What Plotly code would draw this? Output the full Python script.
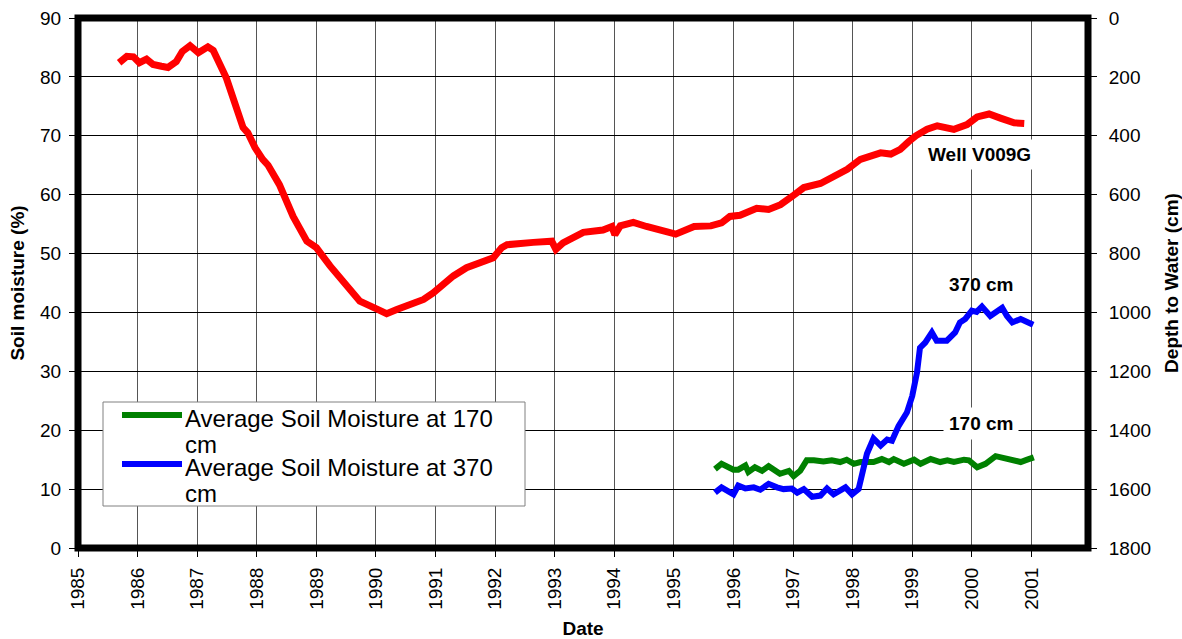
import plotly.graph_objects as go

# ---- data (decimal years) ----
well_dates = [1985.69, 1985.82, 1985.93, 1986.03, 1986.15, 1986.26, 1986.40, 1986.51, 1986.65, 1986.75,
              1986.88, 1987.02, 1987.18, 1987.27, 1987.49, 1987.60, 1987.77, 1987.85, 1987.97, 1988.10,
              1988.19, 1988.38, 1988.49, 1988.61, 1988.84, 1989.00, 1989.23, 1989.50, 1989.73, 1990.01,
              1990.18, 1990.35, 1990.60, 1990.80, 1990.96, 1991.30, 1991.52, 1991.75, 1991.97, 1992.11,
              1992.20, 1992.64, 1992.95, 1993.02, 1993.14, 1993.48, 1993.81, 1993.96, 1994.01, 1994.10,
              1994.32, 1994.54, 1994.77, 1995.03, 1995.34, 1995.62, 1995.80, 1995.94, 1996.11, 1996.39,
              1996.59, 1996.79, 1997.01, 1997.18, 1997.46, 1997.68, 1997.91, 1998.13, 1998.47, 1998.64,
              1998.80, 1998.94, 1999.06, 1999.25, 1999.42, 1999.70, 1999.92, 2000.09, 2000.29, 2000.48,
              2000.71, 2000.88]
well_depth = [152, 130, 132, 152, 140, 158, 164, 168, 148, 114,
              94, 118, 98, 110, 204, 276, 372, 390, 440, 480,
              500, 566, 616, 674, 758, 780, 842, 904, 962, 988,
              1004, 990, 970, 956, 934, 876, 848, 832, 814, 780,
              770, 762, 758, 786, 764, 728, 720, 708, 736, 706,
              694, 708, 722, 734, 708, 706, 696, 674, 670, 646,
              650, 634, 602, 576, 562, 536, 514, 480, 458, 462,
              446, 420, 400, 378, 366, 378, 362, 336, 326, 340,
              356, 358]

sm170_dates = [1995.69, 1995.80, 1996.00, 1996.08, 1996.20, 1996.25, 1996.36, 1996.48, 1996.59, 1996.70,
               1996.78, 1996.93, 1997.01, 1997.12, 1997.23, 1997.35, 1997.51, 1997.65, 1997.79, 1997.90,
               1998.02, 1998.13, 1998.24, 1998.35, 1998.49, 1998.61, 1998.69, 1998.86, 1999.03, 1999.14,
               1999.31, 1999.47, 1999.59, 1999.70, 1999.87, 1999.95, 2000.09, 2000.23, 2000.40, 2000.51,
               2000.65, 2000.82, 2000.93, 2001.04]
sm170 = [13.4, 14.3, 13.3, 13.3, 14.0, 12.9, 13.7, 13.1, 13.9, 13.1,
         12.6, 13.1, 12.2, 13.1, 14.9, 14.9, 14.7, 14.9, 14.6, 15.0,
         14.3, 14.6, 14.7, 14.6, 15.1, 14.6, 15.1, 14.3, 15.0, 14.3,
         15.1, 14.6, 14.9, 14.6, 15.0, 14.9, 13.7, 14.3, 15.6, 15.3,
         14.9, 14.6, 15.0, 15.4]

sm370_dates = [1995.69, 1995.80, 1996.00, 1996.08, 1996.20, 1996.34, 1996.45, 1996.59, 1996.73, 1996.84,
               1996.98, 1997.07, 1997.18, 1997.32, 1997.46, 1997.57, 1997.68, 1997.88, 1997.99, 1998.10,
               1998.24, 1998.35, 1998.47, 1998.58, 1998.66, 1998.77, 1998.91, 1999.00, 1999.08, 1999.13,
               1999.22, 1999.33, 1999.41, 1999.58, 1999.72, 1999.80, 1999.89, 2000.00, 2000.08, 2000.17,
               2000.31, 2000.40, 2000.51, 2000.59, 2000.68, 2000.82, 2000.93, 2001.03]
sm370 = [9.4, 10.3, 9.1, 10.6, 10.1, 10.3, 9.9, 10.9, 10.3, 10.0,
         10.1, 9.4, 10.0, 8.7, 8.9, 10.1, 9.1, 10.3, 9.1, 10.0,
         16.0, 18.6, 17.4, 18.4, 18.2, 20.7, 23.0, 25.8, 29.8, 34.0,
         34.9, 36.6, 35.2, 35.2, 36.6, 38.3, 38.9, 40.3, 40.1, 41.0,
         39.4, 40.0, 40.8, 39.4, 38.3, 38.9, 38.3, 37.9]

year_ticks = list(range(1985, 2002))
year_labels = [str(y) for y in year_ticks]

series_names = ["Average Soil Moisture at 170 cm", "Average Soil Moisture at 370 cm"]
legend_lines = [["Average Soil Moisture at 170", "cm"], ["Average Soil Moisture at 370", "cm"]]
series_colors = ["#008000", "#0000ff"]

FONT = "Arial, 'Liberation Sans', sans-serif"

# plot area in pixels (for placing the hand-drawn legend)
L, R, T, B = 78, 1088, 18, 548
def px(xp):
    return (xp - L) / (R - L)
def py(yp):
    return (B - yp) / (B - T)

fig = go.Figure()
fig.add_trace(go.Scatter(x=well_dates, y=well_depth, yaxis="y2", mode="lines",
                         line=dict(color="#ff0000", width=7), name="Well V009G",
                         showlegend=False))
fig.add_trace(go.Scatter(x=sm170_dates, y=sm170, mode="lines",
                         line=dict(color=series_colors[0], width=6),
                         name=series_names[0], showlegend=False))
fig.add_trace(go.Scatter(x=sm370_dates, y=sm370, mode="lines",
                         line=dict(color=series_colors[1], width=6),
                         name=series_names[1], showlegend=False))

fig.update_layout(
    width=1182, height=639, autosize=False,
    margin=dict(l=L, r=1182 - R, t=T, b=639 - B),
    paper_bgcolor="white", plot_bgcolor="white",
    font=dict(family=FONT, color="black", size=19),
    xaxis=dict(range=[1985, 2001.95], tickvals=year_ticks, ticktext=year_labels,
               tickangle=-90, ticks="outside", ticklen=8, tickcolor="black",
               showgrid=True, gridcolor="#555555", gridwidth=1,
               showline=False, zeroline=False, tickfont=dict(size=19), automargin=False,
               ticklabelstandoff=3,
               title=dict(text="<b>Date</b>", font=dict(size=19), standoff=16)),
    yaxis=dict(range=[0, 90], dtick=10, ticks="outside", ticklen=8, tickcolor="black",
               showgrid=True, gridcolor="black", gridwidth=1,
               showline=False, zeroline=False, tickfont=dict(size=19), automargin=False,
               ticklabelstandoff=4,
               title=dict(text="<b>Soil moisture (%)</b>", font=dict(size=19), standoff=10)),
    yaxis2=dict(range=[1800, 0], dtick=200, overlaying="y", side="right",
                ticks="outside", ticklen=8, tickcolor="black", showgrid=False,
                showline=False, zeroline=False, tickfont=dict(size=19), automargin=False,
                ticklabelstandoff=8,
                title=dict(text="<b>Depth to Water (cm)</b>", font=dict(size=19), standoff=16)),
    showlegend=False,
)

# plot frame, centred on the plot-area edges
fig.add_shape(type="rect", xref="paper", yref="paper", x0=0, x1=1, y0=0, y1=1,
              line=dict(color="black", width=7), layer="above")

# legend box (drawn)
fig.add_shape(type="rect", xref="paper", yref="paper",
              x0=px(103), x1=px(525), y0=py(506), y1=py(402),
              line=dict(color="#808080", width=1), fillcolor="white", layer="above")
sample_y = [415, 464]
text_y = [[418, 444], [467, 493]]
for i in range(2):
    fig.add_shape(type="line", xref="paper", yref="paper",
                  x0=px(122), x1=px(182), y0=py(sample_y[i]), y1=py(sample_y[i]),
                  line=dict(color=series_colors[i], width=6), layer="above")
    for j, txt in enumerate(legend_lines[i]):
        fig.add_annotation(xref="paper", yref="paper", x=px(183), y=py(text_y[i][j]),
                           xanchor="left", yanchor="middle", text=txt, showarrow=False,
                           font=dict(size=24))

fig.add_annotation(x=2000.13, y=66.8, xref="x", yref="y", text="<b>Well V009G</b>",
                   showarrow=False, font=dict(size=19), bgcolor="white", borderpad=4)
fig.add_annotation(x=2000.15, y=44.7, xref="x", yref="y", text="<b>370 cm</b>",
                   showarrow=False, font=dict(size=19))
fig.add_annotation(x=2000.15, y=21.1, xref="x", yref="y", text="<b>170 cm</b>",
                   showarrow=False, font=dict(size=19), bgcolor="white", borderpad=5)

fig.write_html("out.html", config={"displayModeBar": False},
               post_script="document.body.style.margin='0';")
